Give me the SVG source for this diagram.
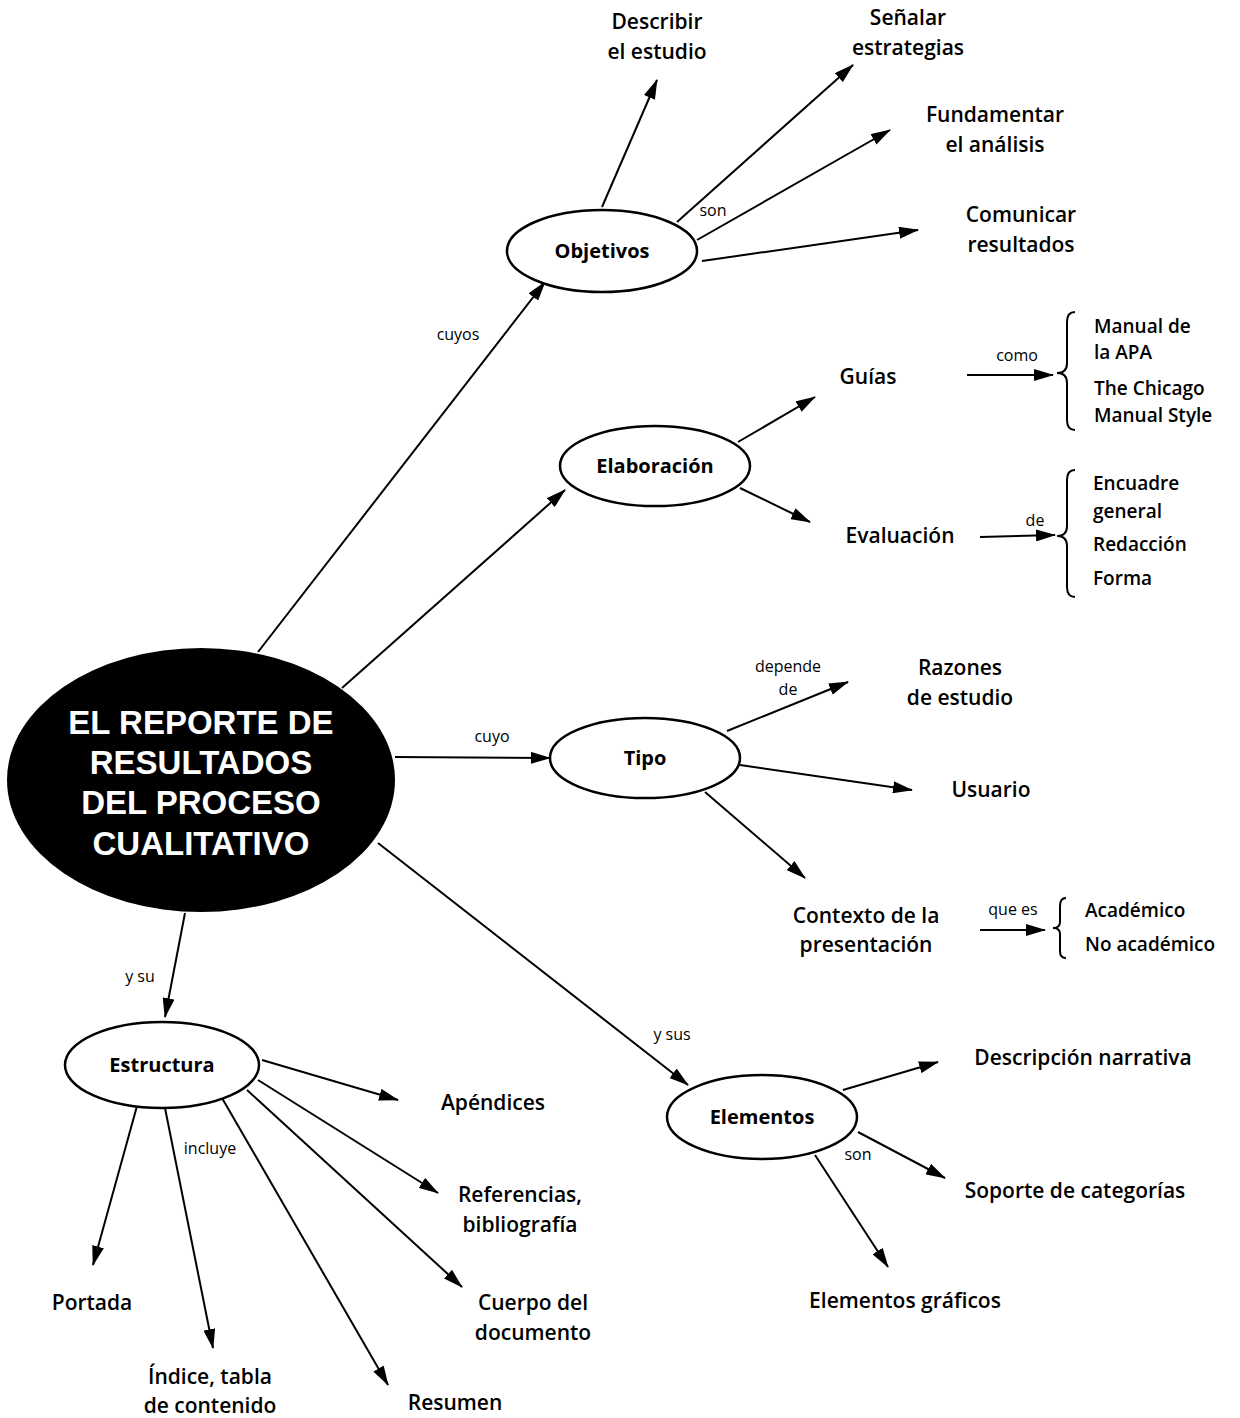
<svg xmlns="http://www.w3.org/2000/svg" width="1240" height="1418" viewBox="0 0 1240 1418">
<defs>
<marker id="ah" viewBox="0 0 20 12" refX="19" refY="6" markerWidth="20" markerHeight="12" markerUnits="userSpaceOnUse" orient="auto">
<path d="M0,0 L20,6 L0,12 Z" fill="#000"/>
</marker>
</defs>
<style>
.lbl{font-family:"Open Sans","Noto Sans",sans-serif;font-size:21px;font-weight:600;fill:#000;text-anchor:middle}
.lft{font-family:"Open Sans","Noto Sans",sans-serif;font-size:19px;font-weight:600;fill:#000}
.sm{font-family:"Open Sans","Noto Sans",sans-serif;font-size:16px;fill:#000;text-anchor:middle}
.nd{font-family:"Open Sans","Noto Sans",sans-serif;font-size:20px;font-weight:700;fill:#000;text-anchor:middle}
.el{fill:#fff;stroke:#000;stroke-width:2.5}
.c line{stroke:#000;stroke-width:2}
.br{fill:none;stroke:#000;stroke-width:2}
.cen{font-family:"Liberation Sans",Arial,sans-serif;font-size:33px;font-weight:700;fill:#fff;text-anchor:middle}
</style>
<rect width="1240" height="1418" fill="#fff"/>

<g id="connectors" class="c">
<line x1="258" y1="652" x2="545" y2="282" marker-end="url(#ah)"/>
<line x1="342" y1="688" x2="565" y2="490" marker-end="url(#ah)"/>
<line x1="395" y1="757" x2="550" y2="758" marker-end="url(#ah)"/>
<line x1="185" y1="913" x2="165" y2="1017" marker-end="url(#ah)"/>
<line x1="378" y1="843" x2="688" y2="1085" marker-end="url(#ah)"/>
<line x1="602" y1="207" x2="657" y2="80" marker-end="url(#ah)"/>
<line x1="677" y1="222" x2="853" y2="65" marker-end="url(#ah)"/>
<line x1="697" y1="240" x2="890" y2="130" marker-end="url(#ah)"/>
<line x1="702" y1="261" x2="918" y2="230" marker-end="url(#ah)"/>
<line x1="738" y1="442" x2="815" y2="397" marker-end="url(#ah)"/>
<line x1="740" y1="488" x2="810" y2="522" marker-end="url(#ah)"/>
<line x1="967" y1="375" x2="1053" y2="375" marker-end="url(#ah)"/>
<line x1="980" y1="537" x2="1055" y2="535" marker-end="url(#ah)"/>
<line x1="727" y1="731" x2="848" y2="682" marker-end="url(#ah)"/>
<line x1="740" y1="765" x2="912" y2="790" marker-end="url(#ah)"/>
<line x1="705" y1="792" x2="805" y2="878" marker-end="url(#ah)"/>
<line x1="980" y1="930" x2="1045" y2="930" marker-end="url(#ah)"/>
<line x1="137" y1="1106" x2="93" y2="1265" marker-end="url(#ah)"/>
<line x1="165" y1="1108" x2="213" y2="1348" marker-end="url(#ah)"/>
<line x1="222" y1="1098" x2="388" y2="1385" marker-end="url(#ah)"/>
<line x1="247" y1="1090" x2="462" y2="1287" marker-end="url(#ah)"/>
<line x1="258" y1="1080" x2="438" y2="1193" marker-end="url(#ah)"/>
<line x1="262" y1="1060" x2="398" y2="1100" marker-end="url(#ah)"/>
<line x1="843" y1="1090" x2="938" y2="1062" marker-end="url(#ah)"/>
<line x1="858" y1="1132" x2="945" y2="1178" marker-end="url(#ah)"/>
<line x1="815" y1="1155" x2="888" y2="1267" marker-end="url(#ah)"/>
<path class="br" d="M1075,312 Q1067,312 1067,322 L1067,363 Q1067,373 1057,373 Q1067,373 1067,383 L1067,420 Q1067,430 1075,430"/>
<path class="br" d="M1075,470 Q1067,470 1067,480 L1067,526 Q1067,536 1057,536 Q1067,536 1067,546 L1067,587 Q1067,597 1075,597"/>
<path class="br" d="M1066,898 Q1060,898 1060,906 L1060,922 Q1060,928 1053,928 Q1060,928 1060,934 L1060,951 Q1060,958 1066,958"/>
<text class="sm" x="458" y="340">cuyos</text>
<text class="sm" x="713" y="216">son</text>
<text class="sm" x="1017" y="361">como</text>
<text class="sm" x="1035" y="526">de</text>
<text class="sm" x="492" y="742">cuyo</text>
<text class="sm" x="788" y="672">depende</text>
<text class="sm" x="788" y="695">de</text>
<text class="sm" x="1013" y="915">que es</text>
<text class="sm" x="140" y="982">y su</text>
<text class="sm" x="672" y="1040">y sus</text>
<text class="sm" x="210" y="1154">incluye</text>
<text class="sm" x="858" y="1160">son</text>
</g>

<g id="central">
<ellipse cx="201" cy="780" rx="194" ry="132" fill="#000"/>
<text class="cen" x="201" y="734">EL REPORTE DE</text>
<text class="cen" x="201" y="774">RESULTADOS</text>
<text class="cen" x="201" y="814">DEL PROCESO</text>
<text class="cen" x="201" y="855">CUALITATIVO</text>
</g>

<g id="objetivos"><ellipse class="el" cx="602" cy="251" rx="95" ry="41"/><text class="nd" x="602" y="258">Objetivos</text></g>
<g id="elaboracion"><ellipse class="el" cx="655" cy="466" rx="95" ry="40"/><text class="nd" x="655" y="473">Elaboración</text></g>
<g id="tipo"><ellipse class="el" cx="645" cy="758" rx="95" ry="40"/><text class="nd" x="645" y="765">Tipo</text></g>
<g id="estructura"><ellipse class="el" cx="162" cy="1065" rx="97" ry="43"/><text class="nd" x="162" y="1072">Estructura</text></g>
<g id="elementos"><ellipse class="el" cx="762" cy="1117" rx="95" ry="42"/><text class="nd" x="762" y="1124">Elementos</text></g>

<g id="describir"><text class="lbl" x="657" y="29">Describir</text><text class="lbl" x="657" y="59">el estudio</text></g>
<g id="senalar"><text class="lbl" x="908" y="25">Señalar</text><text class="lbl" x="908" y="55">estrategias</text></g>
<g id="fundamentar"><text class="lbl" x="995" y="122">Fundamentar</text><text class="lbl" x="995" y="152">el análisis</text></g>
<g id="comunicar"><text class="lbl" x="1021" y="222">Comunicar</text><text class="lbl" x="1021" y="252">resultados</text></g>
<g id="guias"><text class="lbl" x="868" y="384">Guías</text></g>
<g id="evaluacion"><text class="lbl" x="900" y="543">Evaluación</text></g>
<g id="guias-list"><text class="lft" x="1094" y="333">Manual de</text><text class="lft" x="1094" y="359">la APA</text><text class="lft" x="1094" y="395">The Chicago</text><text class="lft" x="1094" y="422">Manual Style</text></g>
<g id="eval-list"><text class="lft" x="1093" y="490">Encuadre</text><text class="lft" x="1093" y="518">general</text><text class="lft" x="1093" y="551">Redacción</text><text class="lft" x="1093" y="585">Forma</text></g>
<g id="razones"><text class="lbl" x="960" y="675">Razones</text><text class="lbl" x="960" y="705">de estudio</text></g>
<g id="usuario"><text class="lbl" x="991" y="797">Usuario</text></g>
<g id="contexto"><text class="lbl" x="866" y="923">Contexto de la</text><text class="lbl" x="866" y="952">presentación</text></g>
<g id="contexto-list"><text class="lft" x="1085" y="917">Académico</text><text class="lft" x="1085" y="951">No académico</text></g>
<g id="portada"><text class="lbl" x="92" y="1310">Portada</text></g>
<g id="indice"><text class="lbl" x="210" y="1384">Índice, tabla</text><text class="lbl" x="210" y="1413">de contenido</text></g>
<g id="resumen"><text class="lbl" x="455" y="1410">Resumen</text></g>
<g id="cuerpo"><text class="lbl" x="533" y="1310">Cuerpo del</text><text class="lbl" x="533" y="1340">documento</text></g>
<g id="referencias"><text class="lbl" x="520" y="1202">Referencias,</text><text class="lbl" x="520" y="1232">bibliografía</text></g>
<g id="apendices"><text class="lbl" x="493" y="1110">Apéndices</text></g>
<g id="descripcion"><text class="lbl" x="1083" y="1065">Descripción narrativa</text></g>
<g id="soporte"><text class="lbl" x="1075" y="1198">Soporte de categorías</text></g>
<g id="graficos"><text class="lbl" x="905" y="1308">Elementos gráficos</text></g>
</svg>
